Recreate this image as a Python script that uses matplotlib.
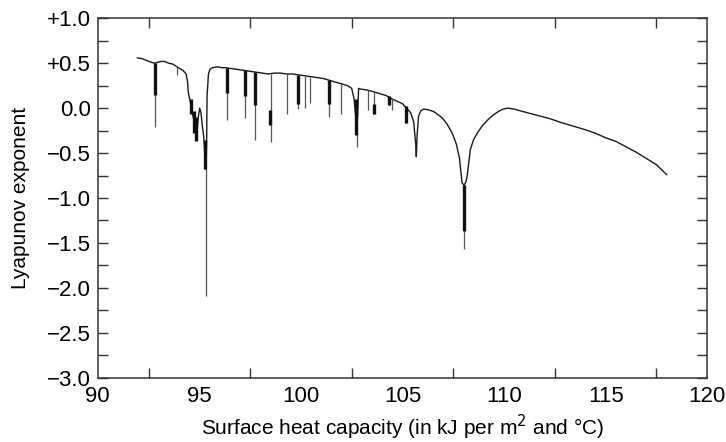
import matplotlib
matplotlib.use("Agg")
import matplotlib.pyplot as plt
from matplotlib.ticker import FixedLocator, MultipleLocator

plt.rcParams['font.family'] = ['Liberation Sans', 'DejaVu Sans']

# upper envelope of the exponent curve
curve_x = [91.95, 92.2, 92.4, 92.65, 92.8, 92.95, 93.1, 93.3, 93.5, 93.7, 93.9,
           94.05, 94.2, 94.35, 94.42, 94.46, 94.55, 94.62, 94.7, 94.8, 94.88,
           94.95, 95.02, 95.08, 95.15, 95.22, 95.28, 95.33, 95.36, 95.38, 95.45,
           95.52, 95.65, 95.9, 96.1, 96.3, 96.6, 96.9, 97.2, 97.5, 97.8, 98.1,
           98.4, 98.7, 99.0, 99.3, 99.6, 99.9, 100.2, 100.5, 100.8, 101.1,
           101.4, 101.7, 102.0, 102.3, 102.5, 102.62, 102.7, 102.75, 102.8,
           102.84, 103.0, 103.3, 103.6, 103.9, 104.2, 104.5, 104.8, 105.0,
           105.2, 105.4, 105.55, 105.65, 105.68, 105.72, 105.79, 105.9, 106.05,
           106.3, 106.55, 106.8, 107.0, 107.2, 107.45, 107.65, 107.8, 107.93,
           108.03, 108.12, 108.18, 108.34, 108.5, 108.7, 108.95, 109.2, 109.45,
           109.7, 109.95, 110.2, 110.5, 110.8, 111.3, 111.8, 112.3, 112.8,
           113.4, 114.0, 114.5, 115.0, 115.5, 116.0, 116.5, 117.0, 117.5, 118.0]
curve_y = [0.56, 0.55, 0.53, 0.51, 0.50, 0.51, 0.52, 0.52, 0.50, 0.49, 0.46,
           0.44, 0.42, 0.38, 0.30, 0.17, 0.08, -0.02, -0.10, -0.20, -0.28,
           -0.10, 0.0, -0.05, -0.20, -0.32, -0.55, -0.68, -0.40, 0.13, 0.38,
           0.43, 0.45, 0.46, 0.45, 0.45, 0.44, 0.43, 0.42, 0.41, 0.40, 0.39,
           0.38, 0.39, 0.39, 0.38, 0.38, 0.37, 0.36, 0.35, 0.34, 0.33,
           0.31, 0.29, 0.27, 0.25, 0.22, 0.10, -0.10, -0.25, -0.05,
           0.22, 0.21, 0.20, 0.18, 0.16, 0.14, 0.10, 0.07, 0.05,
           0.0, -0.05, -0.15, -0.40, -0.54, -0.30, -0.09, -0.03, -0.01,
           -0.02, -0.04, -0.08, -0.12, -0.18, -0.28, -0.40, -0.55, -0.83,
           -0.86, -0.82, -0.76, -0.46, -0.35, -0.27, -0.19, -0.13, -0.08,
           -0.04, -0.01, 0.0, -0.01, -0.03, -0.06, -0.09, -0.12, -0.16,
           -0.20, -0.24, -0.28, -0.33, -0.37, -0.43, -0.49, -0.56, -0.63, -0.74]

# thin downward spikes: position, top, bottom
spike_x = [92.8, 93.9, 96.37, 97.26, 97.74, 98.52, 99.33, 99.88, 100.18, 100.44,
           101.39, 101.96, 102.74, 103.28, 103.58, 104.35, 104.48, 105.19,
           95.34, 108.03]
spike_top = [0.50, 0.46, 0.45, 0.42, 0.40, 0.38, 0.38, 0.37, 0.36, 0.35,
             0.31, 0.27, -0.25, 0.20, 0.18, 0.13, 0.11, 0.02,
             -0.68, -0.86]
spike_low = [-0.21, 0.37, -0.13, -0.11, -0.36, -0.38, -0.06, -0.01, 0.0, 0.06,
             -0.10, -0.06, -0.43, -0.02, -0.07, 0.04, -0.02, -0.17,
             -2.09, -1.57]

# dense (thick) parts of the spikes
thick_x = [92.8, 96.37, 97.26, 97.76, 98.5, 99.88, 101.39, 102.72, 103.58,
           104.35, 105.19, 94.6, 94.72, 94.86, 95.3, 108.03]
thick_top = [0.50, 0.45, 0.42, 0.40, -0.02, 0.37, 0.31, 0.10, 0.05,
             0.13, 0.02, 0.10, -0.03, -0.10, -0.35, -0.86]
thick_low = [0.15, 0.17, 0.14, 0.04, -0.19, 0.05, 0.05, -0.30, -0.07,
             0.04, -0.17, -0.07, -0.28, -0.37, -0.68, -1.37]

ytick_vals = [1.0, 0.5, 0.0, -0.5, -1.0, -1.5, -2.0, -2.5, -3.0]
ytick_labels = ['+1.0', '+0.5', '0.0', '\u22120.5', '\u22121.0', '\u22121.5',
                '\u22122.0', '\u22122.5', '\u22123.0']
xtick_vals = [90, 95, 100, 105, 110, 115, 120]

fig = plt.figure(figsize=(7.26, 4.42), dpi=100)
ax = fig.add_axes([0.1346, 0.1455, 0.8396, 0.8131])

ax.plot(curve_x, curve_y, color='#1a1a1a', lw=1.0)
ax.vlines(spike_x, spike_low, spike_top, color='#555555', lw=0.9)
ax.vlines(thick_x, thick_low, thick_top, color='#111111', lw=2.4)

ax.set_xlim(90, 120)
ax.set_ylim(-3.0, 1.0)
ax.xaxis.set_major_locator(FixedLocator(xtick_vals))
ax.xaxis.set_minor_locator(MultipleLocator(2.5))
ax.yaxis.set_major_locator(FixedLocator(ytick_vals))
ax.yaxis.set_minor_locator(MultipleLocator(0.25))
ax.set_yticklabels(ytick_labels)
ax.tick_params(which='both', direction='in', top=True, right=True,
               length=7, width=1.0, color='#333333', labelsize=16, pad=5)
ax.tick_params(axis='x', which='major', length=0, pad=6)
ax.tick_params(axis='x', which='minor', length=7)
for s in ax.spines.values():
    s.set_color('#333333')
    s.set_linewidth(1.1)

ax.set_xlabel('Surface heat capacity (in kJ per m$^2$ and \u00b0C)', fontsize=15)
ax.set_ylabel('Lyapunov exponent', fontsize=15)
ax.xaxis.set_label_coords(0.5, -0.097)
ax.yaxis.set_label_coords(-0.111, 0.5)

fig.savefig('out.png', dpi=100)
